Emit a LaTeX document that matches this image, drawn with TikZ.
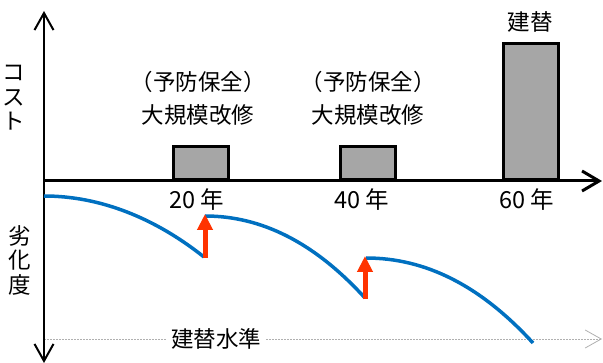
\documentclass[tikz,border=0pt]{standalone}
\usepackage{fontspec}
\setmainfont{Noto Sans CJK JP}
\usetikzlibrary{arrows.meta}
\definecolor{barfill}{HTML}{A6A6A6}
\definecolor{curveblue}{HTML}{0070C0}
\definecolor{upred}{HTML}{FF3300}
\definecolor{levelgray}{HTML}{B0B0B0}
\tikzset{
  axis/.style={line width=2pt, -{Straight Barb[length=17pt,width=19pt,line width=2pt]}},
  haxis/.style={line width=3pt, -{Straight Barb[length=17pt,width=20pt,line width=3pt]}},
  bar/.style={draw=black, fill=barfill, line width=3pt, inner sep=0pt, anchor=south, minimum width=55pt},
  lbl/.style={font=\fontsize{22.5}{24}\selectfont, inner sep=0pt},
  yearlbl/.style={font=\fontsize{23.5}{24}\selectfont, inner sep=0pt},
  vert/.style={inner sep=0pt, align=center, font=\fontsize{22.5}{24.5}\selectfont},
  deg/.style={draw=curveblue, line width=3.5pt},
  lift/.style={draw=upred, line width=5pt, -{Triangle[length=16pt,width=15pt]}},
  level/.style={draw=levelgray, line width=0.8pt, dash pattern=on 2pt off 1pt, -{Straight Barb[length=16pt,width=18pt,line width=0.8pt]}},
}
\begin{document}
\begin{tikzpicture}[x=1pt,y=-1pt]
\useasboundingbox (0,0) rectangle (603,363);
% axes
\coordinate (o) at (44,181);
\coordinate (ytop) at (44,11);
\coordinate (ybot) at (44,363);
\coordinate (xend) at (602,181);
\coordinate (lvlstart) at (44,339);
\coordinate (lvlend) at (602,339);
% level line
\draw[level] (lvlstart) -- (lvlend);
\node[lbl, fill=white, inner xsep=4pt] (lvl) at (216,339) {建替水準};
\draw[axis] (o) -- (ytop);
\draw[axis] (o) -- (ybot);
% bars
\node[bar, minimum height=33pt] (b1) at (201,181) {};
\node[bar, minimum height=33pt] (b2) at (367.5,181) {};
\node[bar, minimum height=136pt] (b3) at (531,181) {};
\draw[haxis] (o) -- (xend);
% labels
\node[lbl] (p1) at (198,82) {（予防保全）};
\node[lbl] (m1) at (198,115) {大規模改修};
\node[lbl] (p2) at (368,82) {（予防保全）};
\node[lbl] (m2) at (368,115) {大規模改修};
\node[lbl] (r3) at (530,22) {建替};
\node[yearlbl] (y20) at (197,200) {20 年};
\node[yearlbl] (y40) at (362,200) {40 年};
\node[yearlbl] (y60) at (527,200) {60 年};
\node[vert] (cost) at (14,98) {コ\\ス\\ト};
\node[vert] (degl) at (20,260) {劣\\化\\度};
% degradation curves
\coordinate (c1s) at (44,196);
\coordinate (c1e) at (204,257);
\coordinate (c2s) at (205,216);
\coordinate (c2e) at (365,298);
\coordinate (c3s) at (366,258);
\coordinate (c3e) at (533,343);
\draw[deg] (c1s) .. controls (100,196) and (155,218) .. (c1e);
\draw[deg] (c2s) .. controls (262,216) and (315,243) .. (c2e);
\draw[deg] (c3s) .. controls (425,258) and (480,285) .. (c3e);
% lift arrows
\coordinate (a1b) at (205,258);
\coordinate (a1t) at (205,214);
\coordinate (a2b) at (365,299);
\coordinate (a2t) at (365,256);
\draw[lift] (a1b) -- (a1t);
\draw[lift] (a2b) -- (a2t);
\end{tikzpicture}
\end{document}
